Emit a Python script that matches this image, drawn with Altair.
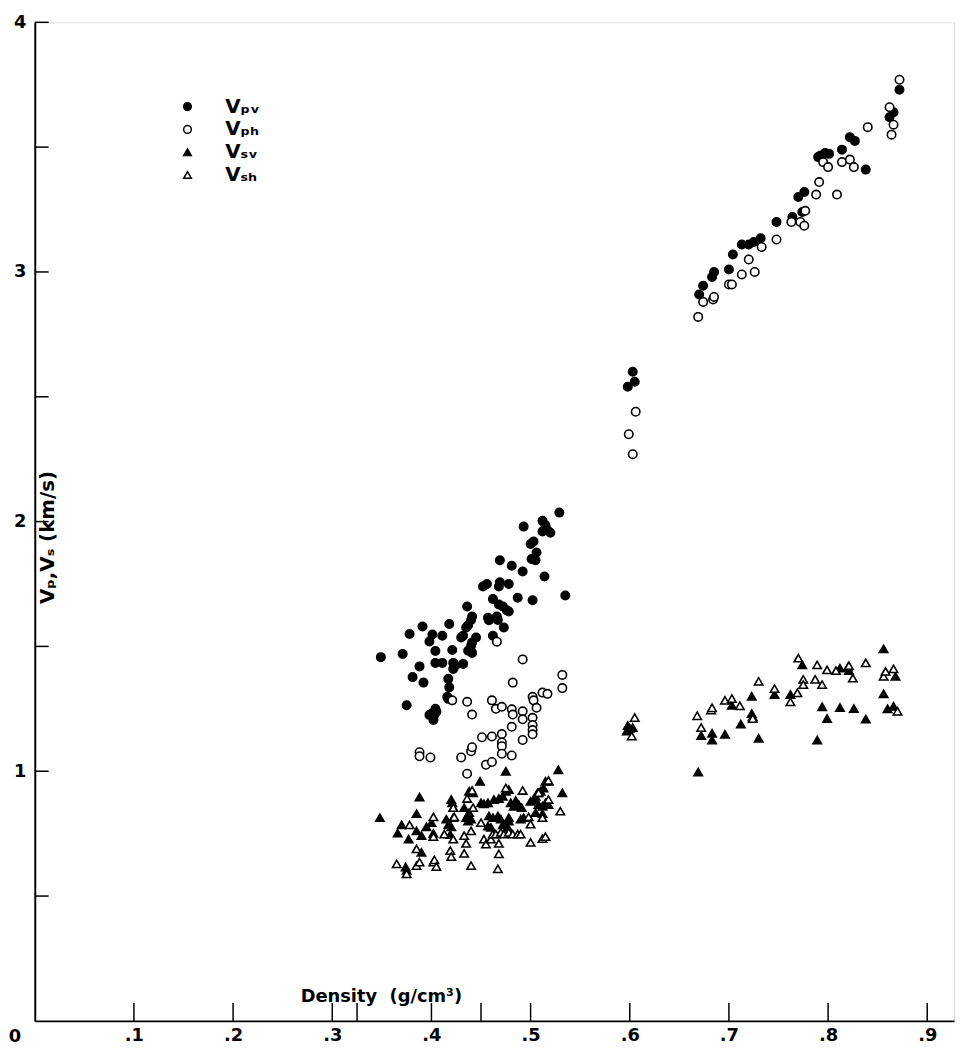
import altair as alt
import pandas as pd

FONT = "DejaVu Sans"

# ---- data ----
vpv_x = [0.349, 0.371, 0.375, 0.378, 0.381, 0.388, 0.391, 0.392, 0.398, 0.401, 0.404, 0.404, 0.404, 0.400, 0.403,
         0.398, 0.402, 0.405, 0.411, 0.411, 0.416, 0.417, 0.417, 0.418, 0.418, 0.421, 0.422, 0.424, 0.432, 0.422,
         0.430, 0.432, 0.435, 0.436, 0.437, 0.437, 0.440, 0.440, 0.441, 0.441, 0.441, 0.445, 0.452, 0.456, 0.457,
         0.458, 0.462, 0.462, 0.466, 0.467, 0.468, 0.469, 0.468, 0.469, 0.472, 0.473, 0.476, 0.478, 0.478, 0.481,
         0.487, 0.492, 0.493, 0.500, 0.503, 0.501, 0.505, 0.502, 0.506, 0.512, 0.515, 0.512, 0.517, 0.520, 0.514,
         0.529, 0.535,
         0.603, 0.605, 0.598,
         0.670, 0.674, 0.683, 0.685, 0.700, 0.704, 0.713, 0.720, 0.725, 0.732, 0.748, 0.764, 0.774, 0.770, 0.776,
         0.790, 0.792, 0.797, 0.801, 0.814, 0.822, 0.827, 0.838, 0.862, 0.866, 0.872]
vpv_y = [1.457, 1.470, 1.264, 1.550, 1.377, 1.420, 1.580, 1.355, 1.520, 1.548, 1.482, 1.434, 1.250, 1.230, 1.225,
         1.225, 1.205, 1.238, 1.543, 1.434, 1.298, 1.290, 1.370, 1.590, 1.336, 1.486, 1.434, 1.423, 1.430, 1.410,
         1.536, 1.543, 1.576, 1.660, 1.585, 1.483, 1.606, 1.503, 1.620, 1.516, 1.474, 1.536, 1.740, 1.750, 1.615,
         1.605, 1.690, 1.543, 1.620, 1.606, 1.740, 1.757, 1.668, 1.845, 1.660, 1.576, 1.645, 1.640, 1.750, 1.823,
         1.695, 1.800, 1.980, 1.910, 1.920, 1.850, 1.845, 1.685, 1.876, 2.003, 1.985, 1.960, 1.965, 1.955, 1.780,
         2.036, 1.704,
         2.600, 2.560, 2.540,
         2.910, 2.945, 2.980, 3.000, 3.010, 3.070, 3.110, 3.110, 3.120, 3.135, 3.200, 3.220, 3.240, 3.300, 3.320,
         3.460, 3.465, 3.476, 3.473, 3.490, 3.540, 3.525, 3.410, 3.620, 3.640, 3.730]

vph_x = [0.388, 0.388, 0.399, 0.421, 0.430, 0.436, 0.436, 0.440, 0.441, 0.441, 0.451, 0.455, 0.461, 0.461, 0.461,
         0.465, 0.466, 0.471, 0.471, 0.471, 0.471, 0.471, 0.481, 0.481, 0.481, 0.482, 0.482, 0.492, 0.492, 0.492,
         0.492, 0.502, 0.502, 0.502, 0.502, 0.502, 0.503, 0.506, 0.512, 0.517, 0.532, 0.532,
         0.606, 0.599, 0.603,
         0.669, 0.674, 0.684, 0.685, 0.700, 0.703, 0.713, 0.720, 0.726, 0.733, 0.748, 0.763, 0.772, 0.776, 0.777,
         0.788, 0.791, 0.795, 0.800, 0.809, 0.814, 0.822, 0.826, 0.840, 0.862, 0.866, 0.864, 0.872]
vph_y = [1.076, 1.060, 1.055, 1.284, 1.055, 1.278, 0.990, 1.080, 1.096, 1.227, 1.136, 1.026, 1.037, 1.139, 1.284,
         1.250, 1.519, 1.258, 1.149, 1.115, 1.100, 1.070, 1.063, 1.178, 1.248, 1.227, 1.355, 1.448, 1.240, 1.208,
         1.125, 1.298, 1.214, 1.185, 1.165, 1.148, 1.284, 1.254, 1.315, 1.310, 1.386, 1.333,
         2.440, 2.350, 2.270,
         2.820, 2.880, 2.890, 2.900, 2.950, 2.950, 2.990, 3.050, 3.000, 3.100, 3.130, 3.200, 3.200, 3.185, 3.245,
         3.310, 3.360, 3.440, 3.420, 3.310, 3.440, 3.450, 3.420, 3.580, 3.660, 3.590, 3.550, 3.770]

vsv_x = [0.348, 0.366, 0.370, 0.374, 0.375, 0.377, 0.385, 0.385, 0.388, 0.390, 0.390, 0.395, 0.400, 0.402, 0.415,
         0.417, 0.419, 0.420, 0.420, 0.421, 0.422, 0.422, 0.433, 0.435, 0.437, 0.438, 0.438, 0.440, 0.442, 0.449,
         0.450, 0.453, 0.457, 0.457, 0.458, 0.460, 0.462, 0.463, 0.467, 0.468, 0.470, 0.472, 0.472, 0.475, 0.475,
         0.477, 0.478, 0.478, 0.478, 0.480, 0.483, 0.485, 0.488, 0.490, 0.491, 0.493, 0.500, 0.503, 0.505, 0.505,
         0.507, 0.508, 0.510, 0.512, 0.512, 0.513, 0.515, 0.515, 0.518, 0.518, 0.528, 0.532,
         0.598, 0.600, 0.597, 0.603,
         0.669, 0.672, 0.683, 0.683, 0.696, 0.703, 0.712, 0.723, 0.723, 0.724, 0.730, 0.746, 0.762, 0.774, 0.789,
         0.794, 0.799, 0.812, 0.820, 0.821, 0.812, 0.826, 0.838, 0.856, 0.856, 0.860, 0.868, 0.866]
vsv_y = [0.814, 0.752, 0.785, 0.616, 0.603, 0.728, 0.830, 0.761, 0.897, 0.742, 0.675, 0.777, 0.794, 0.751, 0.808,
         0.785, 0.746, 0.777, 0.887, 0.874, 0.854, 0.814, 0.854, 0.814, 0.800, 0.834, 0.920, 0.808, 0.914, 0.960,
         0.874, 0.870, 0.874, 0.780, 0.821, 0.775, 0.814, 0.887, 0.821, 0.891, 0.808, 0.900, 0.785, 0.920, 1.000,
         0.775, 0.927, 0.814, 0.800, 0.874, 0.860, 0.883, 0.867, 0.808, 0.854, 0.814, 0.880, 0.887, 0.900, 0.834,
         0.914, 0.867, 0.920, 0.860, 0.830, 0.933, 0.960, 0.874, 0.960, 0.867, 1.006, 0.914,
         1.183, 1.172, 1.161, 1.175,
         0.997, 1.143, 1.152, 1.125, 1.148, 1.264, 1.189, 1.300, 1.231, 1.218, 1.132, 1.307, 1.307, 1.426, 1.125,
         1.258, 1.211, 1.413, 1.417, 1.403, 1.255, 1.251, 1.209, 1.490, 1.310, 1.250, 1.380, 1.260]

vsh_x = [0.365, 0.375, 0.378, 0.385, 0.385, 0.388, 0.402, 0.402, 0.402, 0.403, 0.405, 0.413, 0.419, 0.420, 0.422,
         0.422, 0.423, 0.433, 0.433, 0.435, 0.436, 0.440, 0.440, 0.441, 0.442, 0.450, 0.453, 0.455, 0.460, 0.462,
         0.465, 0.467, 0.468, 0.468, 0.470, 0.473, 0.475, 0.478, 0.482, 0.487, 0.490, 0.492, 0.498, 0.500, 0.500,
         0.508, 0.512, 0.512, 0.515, 0.518, 0.518, 0.530,
         0.605, 0.602,
         0.668, 0.672, 0.682, 0.683, 0.696, 0.703, 0.711, 0.724, 0.730, 0.746, 0.762, 0.769, 0.770, 0.775, 0.775,
         0.787, 0.789, 0.794, 0.799, 0.808, 0.821, 0.825, 0.838, 0.856, 0.858, 0.866, 0.870]
vsh_y = [0.629, 0.589, 0.785, 0.689, 0.622, 0.636, 0.817, 0.738, 0.636, 0.645, 0.618, 0.748, 0.682, 0.658, 0.854,
         0.728, 0.817, 0.742, 0.671, 0.711, 0.891, 0.761, 0.622, 0.923, 0.854, 0.794, 0.728, 0.708, 0.728, 0.748,
         0.748, 0.609, 0.711, 0.669, 0.755, 0.748, 0.933, 0.755, 0.748, 0.748, 0.748, 0.923, 0.817, 0.788, 0.715,
         0.914, 0.814, 0.730, 0.738, 0.963, 0.887, 0.840,
         1.215, 1.141,
         1.222, 1.175, 1.245, 1.254, 1.284, 1.291, 1.262, 1.211, 1.360, 1.331, 1.278, 1.314, 1.453, 1.368, 1.347,
         1.368, 1.426, 1.347, 1.406, 1.403, 1.423, 1.373, 1.434, 1.380, 1.400, 1.410, 1.240]

series_names = ["V\u209a\u1d65", "V\u209a\u2095", "V\u209b\u1d65", "V\u209b\u2095"]
series_shapes = ["circle", "circle", "triangle-up", "triangle-up"]
series_fills = ["black", "white", "black", "white"]
series_strokes = ["black", "black", "black", "black"]

x_ticks = [0.1, 0.2, 0.3, 0.325, 0.4, 0.45, 0.5, 0.6, 0.7, 0.8, 0.9]
x_labels = [0.1, 0.2, 0.3, 0.4, 0.5, 0.6, 0.7, 0.8, 0.9]
y_ticks = [0.5, 1.0, 1.5, 2.0, 2.5, 3.0, 3.5, 4.0]
y_labels = [1, 2, 3, 4]
origin_label = ["0"]

rows = []
for name, xs, ys in zip(series_names, [vpv_x, vph_x, vsv_x, vsh_x], [vpv_y, vph_y, vsv_y, vsh_y]):
    for a, b in zip(xs, ys):
        rows.append({"series": name, "density": a, "velocity": b})
df = pd.DataFrame(rows)

W, H = 927, 1007
x_scale = alt.Scale(domain=[0, 0.927], nice=False, zero=False)
y_scale = alt.Scale(domain=[0, 4], nice=False, zero=False)

legend = alt.Legend(
    title=None, orient="none", legendX=144, legendY=75, padding=0,
    labelFont=FONT, labelFontSize=20, labelFontWeight="bold", labelColor="black",
    symbolSize=60, symbolStrokeColor="black", symbolStrokeWidth=1.5,
    labelOffset=28, rowPadding=3,
)

x_axis = alt.Axis(
    values=x_labels, labelExpr="replace(format(datum.value, '.1f'), '0.', '.')",
    ticks=False, grid=False, domainColor="black", domainWidth=2,
    labelFont=FONT, labelFontSize=18, labelFontWeight="bold", labelColor="black", labelPadding=6,
    title="Density\u00a0\u00a0(g/cm\u00b3)", titleFont=FONT, titleFontSize=18, titleFontWeight="bold",
    titleColor="black", titleX=349, titleY=-16, titleAlign="center", titleBaseline="bottom",
)
y_axis = alt.Axis(
    values=y_labels, format="d",
    ticks=False, grid=False, domainColor="black", domainWidth=2,
    labelFont=FONT, labelFontSize=18, labelFontWeight="bold", labelColor="black", labelPadding=9,
    title="V\u209a,V\u209b\u00a0(km/s)", titleFont=FONT, titleFontSize=20, titleFontWeight="bold", titleColor="black",
    titleAngle=270, titleX=13, titleY=519, titleAlign="center", titleBaseline="middle",
)

points = alt.Chart(df).mark_point(strokeWidth=1.6, opacity=1, fillOpacity=1, size=72).encode(
    x=alt.X("density:Q", scale=x_scale, axis=x_axis),
    y=alt.Y("velocity:Q", scale=y_scale, axis=y_axis),
    shape=alt.Shape("series:N", scale=alt.Scale(domain=series_names, range=series_shapes), legend=legend),
    fill=alt.Fill("series:N", scale=alt.Scale(domain=series_names, range=series_fills), legend=legend),
    stroke=alt.Stroke("series:N", scale=alt.Scale(domain=series_names, range=series_strokes), legend=legend),
)

xticks = alt.Chart(pd.DataFrame({"density": x_ticks})).mark_rule(color="black", strokeWidth=1.5).encode(
    x=alt.X("density:Q", scale=x_scale),
    y=alt.value(H), y2=alt.value(H - 18),
)
# inward y ticks drawn as short horizontal rules
yticks = alt.Chart(
    pd.DataFrame({"velocity": y_ticks, "tick_start": [0.0] * len(y_ticks), "tick_end": [0.014] * len(y_ticks)})
).mark_rule(color="black", strokeWidth=1.5).encode(
    y=alt.Y("velocity:Q", scale=y_scale),
    x=alt.X("tick_start:Q", scale=x_scale),
    x2="tick_end:Q",
)
zero = alt.Chart(pd.DataFrame({"density": [0.0], "velocity": [0.0], "label": origin_label})).mark_text(
    font=FONT, fontSize=18, fontWeight="bold", color="black", dx=-20, dy=16
).encode(
    x=alt.X("density:Q", scale=x_scale),
    y=alt.Y("velocity:Q", scale=y_scale),
    text="label:N",
)

chart = alt.layer(points, xticks, yticks, zero).properties(
    width=W, height=H,
    autosize=alt.AutoSizeParams(type="none"),
    padding={"left": 27, "top": 10, "right": 2, "bottom": 33},
).configure_view(stroke=None).configure(background="white")

chart.save("out.html", embed_options={"renderer": "svg", "actions": False})
